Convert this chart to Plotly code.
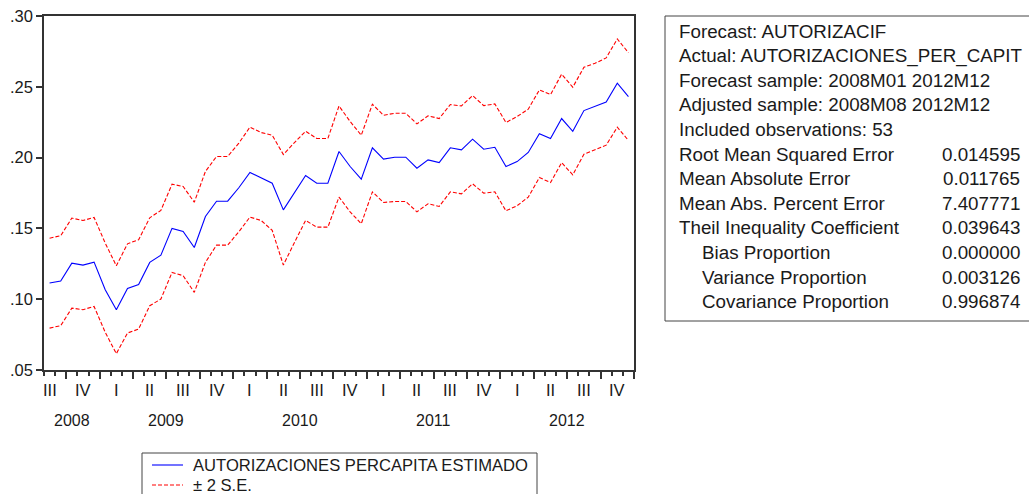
import numpy as np
import pandas as pd
import plotly.graph_objects as go

# Monthly forecast sample 2008M08 - 2012M12
months = pd.period_range("2008-08", "2012-12", freq="M")

forecast = [
    0.1114, 0.1128, 0.1255, 0.1241, 0.1262, 0.1067, 0.0926, 0.1076, 0.1104, 0.1260,
    0.1311, 0.1500, 0.1478, 0.1365, 0.1584, 0.1692, 0.1692, 0.1787, 0.1895, 0.1859,
    0.1819, 0.1631, 0.1754, 0.1874, 0.1819, 0.1819, 0.2043, 0.1937, 0.1848, 0.2069,
    0.1989, 0.2003, 0.2003, 0.1925, 0.1984, 0.1965, 0.2069, 0.2055, 0.2130, 0.2059,
    0.2073, 0.1937, 0.1972, 0.2036, 0.2168, 0.2135, 0.2276, 0.2186, 0.2332, 0.2360,
    0.2393, 0.2525, 0.2431,
]
upper = [
    0.1431, 0.1448, 0.1573, 0.1556, 0.1577, 0.1396, 0.1236, 0.1391, 0.1420, 0.1575,
    0.1627, 0.1812, 0.1796, 0.1685, 0.1902, 0.2008, 0.2008, 0.2102, 0.2215, 0.2177,
    0.2158, 0.2022, 0.2106, 0.2186, 0.2135, 0.2135, 0.2365, 0.2255, 0.2158, 0.2377,
    0.2299, 0.2313, 0.2313, 0.2238, 0.2295, 0.2276, 0.2375, 0.2365, 0.2438, 0.2367,
    0.2379, 0.2248, 0.2290, 0.2342, 0.2478, 0.2445, 0.2589, 0.2497, 0.2638, 0.2666,
    0.2704, 0.2838, 0.2741,
]
lower = [
    0.0796, 0.0813, 0.0937, 0.0926, 0.0949, 0.0766, 0.0615, 0.0761, 0.0789, 0.0954,
    0.1001, 0.1189, 0.1166, 0.1048, 0.1260, 0.1382, 0.1382, 0.1476, 0.1580, 0.1556,
    0.1486, 0.1241, 0.1401, 0.1556, 0.1509, 0.1509, 0.1721, 0.1617, 0.1533, 0.1758,
    0.1683, 0.1690, 0.1690, 0.1617, 0.1674, 0.1655, 0.1758, 0.1744, 0.1815, 0.1749,
    0.1758, 0.1624, 0.1660, 0.1721, 0.1859, 0.1824, 0.1965, 0.1878, 0.2024, 0.2055,
    0.2088, 0.2215, 0.2121,
]

y_tick_vals = [0.05, 0.10, 0.15, 0.20, 0.25, 0.30]
y_tick_text = [".05", ".10", ".15", ".20", ".25", ".30"]
roman = {1: "I", 2: "II", 3: "III", 4: "IV"}

series_names = ["AUTORIZACIONES PERCAPITA ESTIMADO", "\u00b1 2 S.E."]

stats_header = [
    "Forecast: AUTORIZACIF",
    "Actual: AUTORIZACIONES_PER_CAPIT",
    "Forecast sample: 2008M01 2012M12",
    "Adjusted sample: 2008M08 2012M12",
    "Included observations: 53",
]
stats_names = [
    "Root Mean Squared Error",
    "Mean Absolute Error",
    "Mean Abs. Percent Error",
    "Theil Inequality Coefficient",
    "Bias Proportion",
    "Variance Proportion",
    "Covariance Proportion",
]
stats_values = ["0.014595", "0.011765", "7.407771", "0.039643",
                "0.000000", "0.003126", "0.996874"]
stats_indent = [False, False, False, False, True, True, True]

# ---- page geometry (pixels) ----
W, H = 1029, 494
L, R, T, B = 44, 634, 16, 370
FONT = "Liberation Sans, Arial, sans-serif"
INK = "#1a1a1a"
BLUE_LINE = dict(color="#0000ff", width=1.1)
RED_LINE = dict(color="#ff0000", width=1.1, dash="4px,2px")


def px_x(px):
    return (px - L) / (R - L)


def px_y(py):
    return (B - py) / (B - T)


idx = np.arange(len(months))

fig = go.Figure()
fig.add_trace(go.Scatter(x=idx, y=forecast, mode="lines", name=series_names[0],
                         line=BLUE_LINE, showlegend=False))
fig.add_trace(go.Scatter(x=idx, y=upper, mode="lines", name=series_names[1],
                         line=RED_LINE, showlegend=False))
fig.add_trace(go.Scatter(x=idx, y=lower, mode="lines", name=series_names[1],
                         line=RED_LINE, showlegend=False))

annotations = []
shapes = []

# quarter labels, centred on the whole quarter
seen_q = {}
for i, p in enumerate(months):
    key = (p.year, p.quarter)
    if key not in seen_q:
        seen_q[key] = i - (p.month - 1) % 3 + 1
for (yr, q), c in seen_q.items():
    annotations.append(dict(
        x=c, y=px_y(390), xref="x", yref="paper", text=roman[q], showarrow=False,
        xanchor="center", yanchor="middle", font=dict(family=FONT, size=16.5, color=INK),
    ))

# year labels, centred on the months shown for that year
years = pd.Series(idx).groupby([p.year for p in months]).mean()
for yr, c in years.items():
    annotations.append(dict(
        x=c, y=px_y(420), xref="x", yref="paper", text=str(yr), showarrow=False,
        xanchor="center", yanchor="middle", font=dict(family=FONT, size=16, color=INK),
    ))

# legend box below the plot
shapes.append(dict(
    type="rect", xref="paper", yref="paper",
    x0=px_x(142), x1=px_x(537), y0=px_y(505), y1=px_y(453),
    line=dict(color="#444444", width=1), fillcolor="white",
))
for k, (label, style) in enumerate(zip(series_names, [BLUE_LINE, RED_LINE])):
    yk = px_y(465 + 20 * k)
    shapes.append(dict(type="line", xref="paper", yref="paper",
                       x0=px_x(152), x1=px_x(183), y0=yk, y1=yk, line=style))
    annotations.append(dict(
        x=px_x(191), y=yk, xref="paper", yref="paper", text=label, showarrow=False,
        xanchor="left", yanchor="middle", font=dict(family=FONT, size=16.6, color=INK),
    ))

# statistics panel
box_font = dict(family=FONT, size=18.8, color=INK)
row_y = lambda k: px_y(31 + 24.6 * k)
for k, txt in enumerate(stats_header):
    annotations.append(dict(
        x=px_x(677), y=row_y(k), xref="paper", yref="paper", text=txt, showarrow=False,
        xanchor="left", yanchor="middle", font=box_font,
    ))
for j, (name, val, ind) in enumerate(zip(stats_names, stats_values, stats_indent)):
    k = len(stats_header) + j
    annotations.append(dict(
        x=px_x(700 if ind else 677), y=row_y(k), xref="paper", yref="paper", text=name,
        showarrow=False, xanchor="left", yanchor="middle", font=box_font,
    ))
    annotations.append(dict(
        x=px_x(1022), y=row_y(k), xref="paper", yref="paper", text=val,
        showarrow=False, xanchor="right", yanchor="middle", font=box_font,
    ))

shapes.append(dict(
    type="rect", xref="paper", yref="paper",
    x0=px_x(665), x1=px_x(1040), y0=px_y(321), y1=px_y(16),
    line=dict(color="#444444", width=1), fillcolor="rgba(0,0,0,0)",
))

fig.update_layout(
    width=W, height=H,
    margin=dict(l=L, r=W - R, t=T, b=H - B, autoexpand=False),
    paper_bgcolor="white", plot_bgcolor="white",
    font=dict(family=FONT, size=15, color=INK),
    showlegend=False,
    annotations=annotations,
    shapes=shapes,
    xaxis=dict(
        range=[-0.5, len(months) - 0.5], showgrid=False, zeroline=False,
        showline=True, linecolor="#333333", linewidth=1.5, mirror=True,
        ticks="outside", ticklen=7, tickwidth=1.5, tickcolor="#333333",
        tick0=1.5, dtick=3, showticklabels=False,
        minor=dict(ticks="outside", ticklen=4, tickwidth=1.5, tickcolor="#333333",
                   tick0=-0.5, dtick=1, showgrid=False),
    ),
    yaxis=dict(
        range=[0.05, 0.30], showgrid=False, zeroline=False,
        showline=True, linecolor="#333333", linewidth=1.5, mirror=True,
        ticks="outside", ticklen=6, tickwidth=1.5, tickcolor="#333333",
        tickvals=y_tick_vals, ticktext=y_tick_text,
        tickfont=dict(family=FONT, size=16.5, color=INK),
    ),
)

fig.write_html("out.html")
